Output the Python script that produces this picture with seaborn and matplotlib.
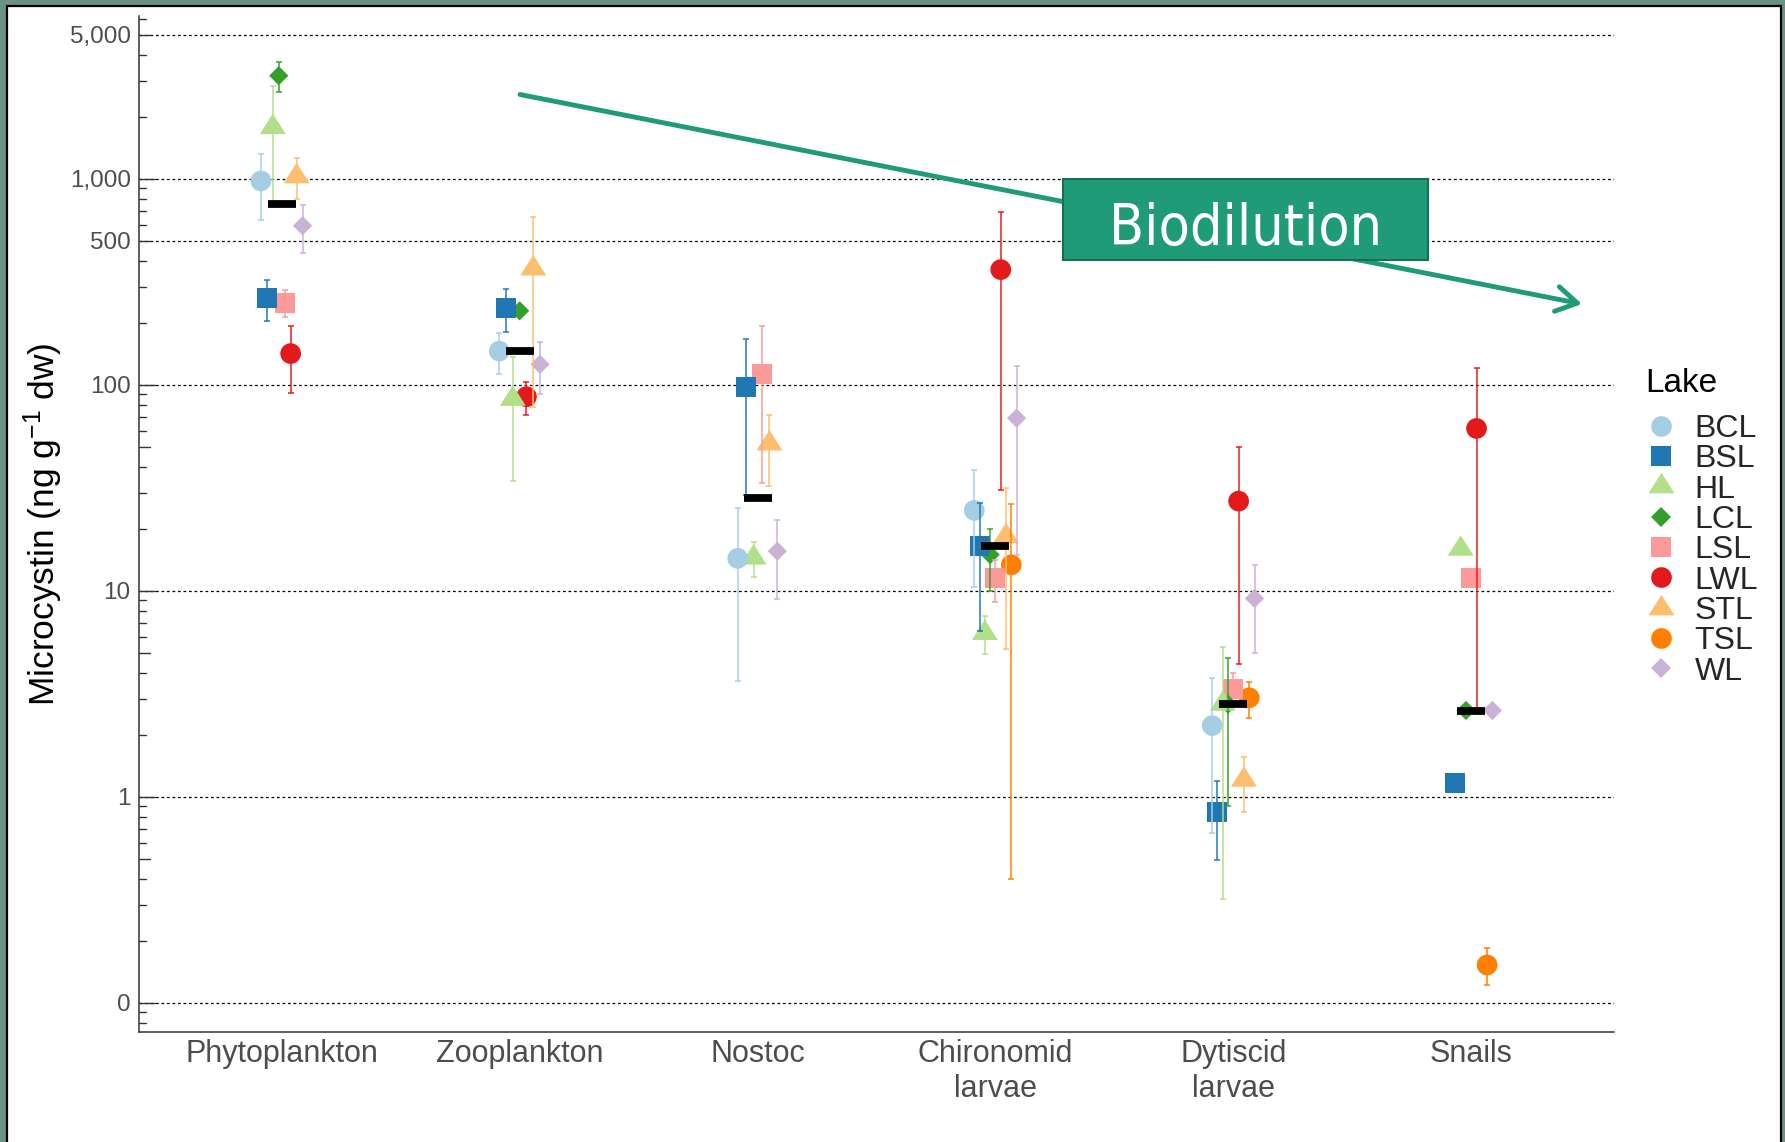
import numpy as np
import pandas as pd
import matplotlib
matplotlib.use("Agg")
import matplotlib.pyplot as plt
import matplotlib.transforms as mtransforms
from matplotlib.path import Path
from matplotlib.lines import Line2D
from matplotlib.patches import Rectangle
from matplotlib.ticker import NullLocator
from matplotlib import font_manager
import seaborn as sns

nan = np.nan

# ---------------- data ----------------
categories = ["Phytoplankton", "Zooplankton", "Nostoc", "Chironomid\nlarvae", "Dytiscid\nlarvae", "Snails"]
lakes = ["BCL", "BSL", "HL", "LCL", "LSL", "LWL", "STL", "TSL", "WL"]

phyto_lakes = ["BCL", "BSL", "HL", "LCL", "LSL", "LWL", "STL", "WL"]
phyto_mean = [978, 265, 1782, 3170, 251, 142, 1028, 593]
phyto_se = [346, 60, 1048, 540, 38, 51, 232, 155]

zoo_lakes = ["BCL", "BSL", "HL", "LCL", "LWL", "STL", "WL"]
zoo_mean = [146, 237, 85.5, 229, 87.7, 367, 126]
zoo_se = [33, 56, 51.5, nan, 16.1, 289, 35.3]

nostoc_lakes = ["BCL", "BSL", "HL", "LSL", "STL", "WL"]
nostoc_mean = [14.4, 98, 14.5, 113, 51.9, 15.6]
nostoc_se = [10.75, 68.7, 2.8, 79.6, 19.6, 6.45]

chiro_lakes = ["BCL", "BSL", "HL", "LCL", "LSL", "LWL", "STL", "TSL", "WL"]
chiro_mean = [24.6, 16.6, 6.24, 15.0, 11.5, 363, 18.4, 13.4, 69.0]
chiro_se = [14.1, 10.2, 1.32, 5.0, 2.65, 332, 13.2, 13.0, 54]

dyt_lakes = ["BCL", "BSL", "HL", "LCL", "LSL", "LWL", "STL", "TSL", "WL"]
dyt_mean = [2.22, 0.849, 2.83, 2.82, 3.36, 27.3, 1.21, 3.03, 9.2]
dyt_se = [1.55, 0.352, 2.51, 1.92, 0.64, 22.9, 0.36, 0.6, 4.2]

snail_lakes = ["BCL", "BSL", "HL", "LCL", "LSL", "LWL", "STL", "TSL", "WL"]
snail_mean = [nan, 1.17, 16.0, 2.63, 11.5, 61.5, nan, 0.153, 2.63]
snail_se = [nan, nan, nan, nan, nan, 58.8, nan, 0.031, nan]

group_median = [760, 146, 28.4, 16.6, 2.83, 2.6]

y_ticks = [0.1, 1, 10, 100, 500, 1000, 5000]
y_tick_labels = ["0", "1", "10", "100", "500", "1,000", "5,000"]

# ---------------- style ----------------
sns.set_theme(style="white")
plt.rcParams["font.family"] = ["Liberation Sans", "DejaVu Sans"]
plt.rcParams["mathtext.fontset"] = "custom"
plt.rcParams["mathtext.rm"] = "Liberation Sans"
plt.rcParams["mathtext.it"] = "Liberation Sans:italic"
plt.rcParams["mathtext.bf"] = "Liberation Sans:bold"

palette = dict(zip(lakes, sns.color_palette("Paired", 9)))
tri = Path([(0, 1), (-0.95, -0.5), (0.95, -0.5), (0, 1)],
           [Path.MOVETO, Path.LINETO, Path.LINETO, Path.CLOSEPOLY])
markers = {"BCL": "o", "BSL": "s", "HL": tri, "LCL": "D", "LSL": "s",
           "LWL": "o", "STL": tri, "TSL": "o", "WL": "D"}
msize = {"o": 14.9, "s": 14.4, "D": 9.8}
marker_ms = {l: (19.7 if markers[l] is tri else msize[markers[l]]) for l in lakes}
sizes = {l: marker_ms[l] ** 2 for l in lakes}

# ---------------- long table with dodge ----------------
blocks = [(phyto_lakes, phyto_mean, phyto_se), (zoo_lakes, zoo_mean, zoo_se),
          (nostoc_lakes, nostoc_mean, nostoc_se), (chiro_lakes, chiro_mean, chiro_se),
          (dyt_lakes, dyt_mean, dyt_se), (snail_lakes, snail_mean, snail_se)]
dodge = 0.2
rows = []
for ci, (lk, mn, se) in enumerate(blocks):
    n = len(lk)
    for j, (l, m, s) in enumerate(zip(lk, mn, se)):
        rows.append(dict(cat=ci, Lake=l, mean=m, se=s,
                         x=ci + (j - (n - 1) / 2) * dodge / n))
df = pd.DataFrame(rows)

# ---------------- figure ----------------
W, H = 1785, 1142
fig = plt.figure(figsize=(W / 100, H / 100), dpi=100)
fig.patch.set_facecolor("#6A9184")
fig.add_artist(Rectangle((7 / W, -0.02), (1781 - 7) / W, (H - 6) / H + 0.02,
                         transform=fig.transFigure, facecolor="white",
                         edgecolor="black", linewidth=1.6, zorder=-5))

ax = fig.add_axes([139 / W, 1 - 1032 / H, 1475 / W, 1016 / H])
ax.set_facecolor("none")
ax.set_yscale("log")

pts = df.dropna(subset=["mean"]).iloc[::-1]
sns.scatterplot(data=pts, x="x", y="mean", hue="Lake", style="Lake", size="Lake",
                hue_order=lakes, style_order=lakes, size_order=lakes,
                palette=palette, markers=markers, sizes=sizes,
                linewidth=0, edgecolor="none", alpha=1, legend=False,
                ax=ax, zorder=3)

eb = df.dropna(subset=["se"])
for _, r in eb.iterrows():
    ax.errorbar(r["x"], r["mean"], yerr=r["se"], fmt="none",
                ecolor=palette[r["Lake"]], elinewidth=1.35, capsize=2.5,
                capthick=1.35, alpha=0.8, zorder=4)

cat_pos = np.arange(len(categories))
ax.hlines(group_median, cat_pos - 0.059, cat_pos + 0.059, colors="black",
          linewidth=5.6, zorder=6)

ax.set_xlim(-0.6, 5.6)
ax.set_ylim(0.0723, 6180)
ax.set_xticks(cat_pos, categories)
ax.set_yticks(y_ticks, y_tick_labels)
ax.yaxis.set_minor_locator(NullLocator())
ax.set_xlabel("")
ax.set_ylabel("Microcystin (ng g$^{-1}$ dw)", fontsize=25.5, color="black")
ax.yaxis.set_label_coords(-0.050, 0.5)

ax.tick_params(axis="both", which="major", direction="out", length=3, width=1,
               color="#333333", labelcolor="#4D4D4D")
ax.tick_params(axis="y", labelsize=17.5, pad=3)
ax.tick_params(axis="x", labelsize=22, pad=2)

ax.grid(axis="y", which="major", color="black", linestyle=(0, (2.2, 2.2)), linewidth=0.9)
ax.grid(axis="x", visible=False)
ax.set_axisbelow(True)

sns.despine(ax=ax)
for s in ["left", "bottom"]:
    ax.spines[s].set_color("#333333")
    ax.spines[s].set_linewidth(1.1)

# inward log ticks (long at decades, medium at 5s, short otherwise)
blend = mtransforms.blended_transform_factory(ax.transAxes, ax.transData)
lo, hi = ax.get_ylim()
for d in range(-2, 5):
    for m in range(1, 10):
        v = m * 10.0 ** d
        if lo <= v <= hi:
            L = 15.5 if m == 1 else (10.5 if m == 5 else 6.5)
            ax.plot([0, L / 1475], [v, v], transform=blend, color="#333333",
                    linewidth=1.0, clip_on=False, zorder=2)

# ---------------- legend ----------------
handles = [Line2D([], [], linestyle="none", marker=markers[l], color=palette[l],
                  markersize=marker_ms[l], markeredgewidth=0) for l in lakes]
fig.legend(handles, lakes, loc="upper left", bbox_to_anchor=(1645 / W, 1 - 414 / H),
           frameon=False, fontsize=23, handlelength=1.0, handletextpad=0.55,
           labelspacing=0.01, borderpad=0, borderaxespad=0, handleheight=0.7)
fig.text(1645 / W, 1 - 391.5 / H, "Lake", fontsize=24, ha="left", va="baseline", color="black")

# ---------------- biodilution annotation ----------------
teal = "#1F9B78"
ax.annotate("", xy=(1582, H - 304), xytext=(520, H - 94.5),
            xycoords="figure pixels", textcoords="figure pixels",
            arrowprops=dict(arrowstyle="->,head_length=0.75,head_width=0.45",
                            lw=3.5, color=teal, shrinkA=0, shrinkB=0,
                            mutation_scale=20),
            annotation_clip=False, zorder=5)

fig.add_artist(Rectangle((1063 / W, (H - 260) / H), 365 / W, 81 / H,
                         transform=fig.transFigure, facecolor=teal,
                         edgecolor="#156F55", linewidth=1.5, zorder=10))
names = {f.name for f in font_manager.fontManager.ttflist}
if "Liberation Sans Narrow" in names:
    bio_kw = dict(family="Liberation Sans Narrow", fontsize=46)
else:
    bio_kw = dict(family="DejaVu Sans", stretch="condensed", fontsize=41)
fig.text(1245.5 / W, (H - 245) / H, "Biodilution", ha="center", va="baseline",
         color="white", zorder=11, **bio_kw)

fig.savefig("out.png", dpi=100, facecolor=fig.get_facecolor())
